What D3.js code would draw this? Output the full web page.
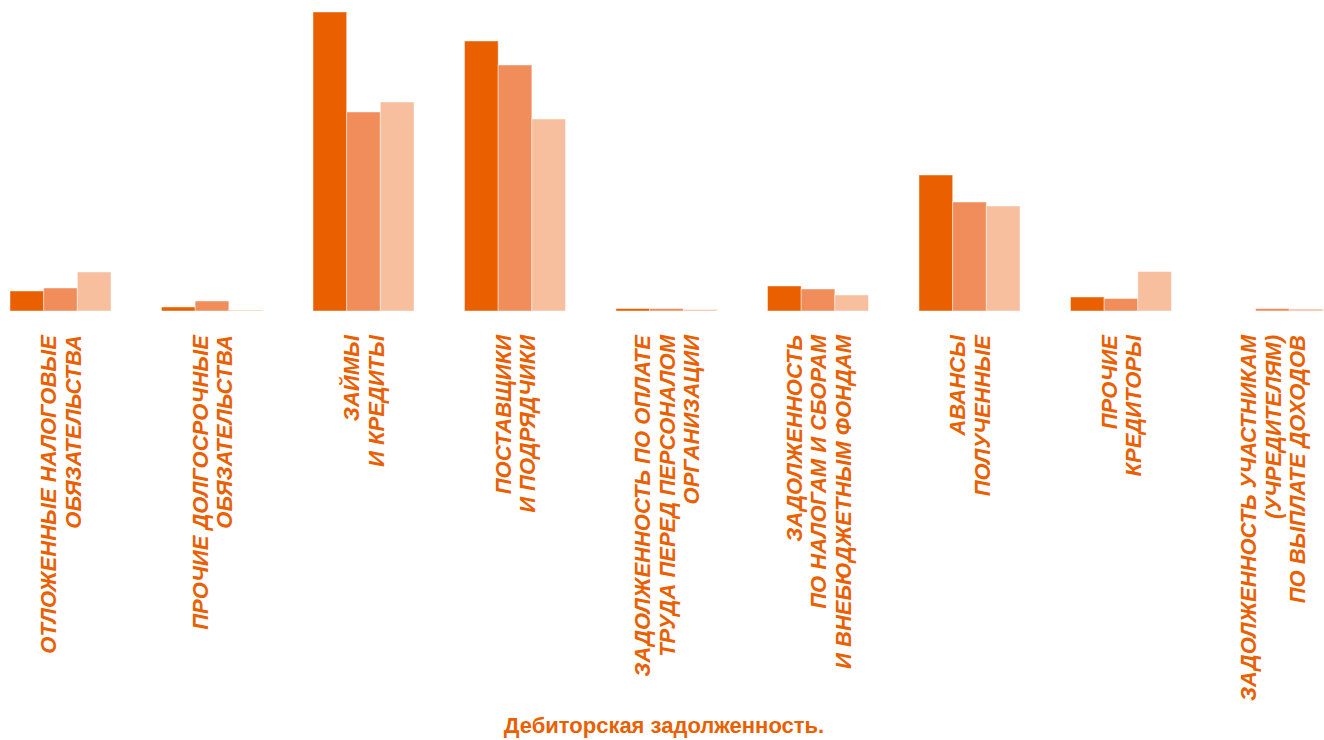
<!DOCTYPE html>
<html>
<head>
<meta charset="utf-8">
<script src="https://cdn.jsdelivr.net/npm/d3@7"></script>
<style>
  html, body { margin: 0; padding: 0; background: #fff; }
  svg { display: block; font-family: "Liberation Sans", Arial, sans-serif; }
</style>
</head>
<body>
<svg id="chart" width="1324" height="740"></svg>
<script>
// Categories (label lines)
const categories = [
  ["ОТЛОЖЕННЫЕ НАЛОГОВЫЕ", "ОБЯЗАТЕЛЬСТВА"],
  ["ПРОЧИЕ ДОЛГОСРОЧНЫЕ", "ОБЯЗАТЕЛЬСТВА"],
  ["ЗАЙМЫ", "И КРЕДИТЫ"],
  ["ПОСТАВЩИКИ", "И ПОДРЯДЧИКИ"],
  ["ЗАДОЛЖЕННОСТЬ ПО ОПЛАТЕ", "ТРУДА ПЕРЕД ПЕРСОНАЛОМ", "ОРГАНИЗАЦИИ"],
  ["ЗАДОЛЖЕННОСТЬ", "ПО НАЛОГАМ И СБОРАМ", "И ВНЕБЮДЖЕТНЫМ ФОНДАМ"],
  ["АВАНСЫ", "ПОЛУЧЕННЫЕ"],
  ["ПРОЧИЕ", "КРЕДИТОРЫ"],
  ["ЗАДОЛЖЕННОСТЬ УЧАСТНИКАМ", "(УЧРЕДИТЕЛЯМ)", "ПО ВЫПЛАТЕ ДОХОДОВ"]
];

// Three series
const series1 = [20, 4, 299, 270, 2.5, 25, 136, 14, 0];
const series2 = [23, 10, 199, 246, 2.5, 22, 109, 12.5, 2.5];
const series3 = [39, 1, 209, 192, 1.5, 16, 105, 39.5, 2];
const seriesColors = ["#EA5F00", "#F08D5B", "#F7BF9E"];
const title = "Дебиторская задолженность.";

const svg = d3.select("#chart");
const orange = "#EA5F00";

const baseY = 311;
const x = d3.scaleBand()
  .domain(d3.range(categories.length))
  .range([10, 1323])
  .paddingInner(1 / 3)
  .paddingOuter(0);

const xSub = d3.scaleBand()
  .domain([0, 1, 2])
  .range([0, x.bandwidth()]);

const allValues = [series1, series2, series3];
const y = d3.scaleLinear()
  .domain([0, d3.max(allValues.flat())])
  .range([baseY, 12]);

// bars
allValues.forEach((vals, s) => {
  svg.append("g")
    .selectAll("rect")
    .data(vals)
    .enter()
    .append("rect")
    .attr("x", (d, i) => x(i) + xSub(s))
    .attr("y", d => y(d))
    .attr("width", xSub.bandwidth())
    .attr("height", d => baseY - y(d))
    .attr("fill", seriesColors[s])
    .attr("stroke", "#fff")
    .attr("stroke-opacity", 0.45)
    .attr("stroke-width", 1);
});

// rotated category labels
const lineGap = 24.5;
const labels = svg.append("g")
  .attr("fill", orange)
  .style("font-size", "22px")
  .style("font-weight", "bold")
  .style("font-style", "italic");

categories.forEach((lines, i) => {
  const cx = x(i) + x.bandwidth() / 2;
  const n = lines.length;
  lines.forEach((line, j) => {
    const lx = cx + (j - (n - 1) / 2) * lineGap + 8;
    labels.append("text")
      .attr("transform", `translate(${lx},335) rotate(-90)`)
      .attr("text-anchor", "end")
      .text(line);
  });
});

// title
svg.append("text")
  .attr("x", 664)
  .attr("y", 733)
  .attr("text-anchor", "middle")
  .attr("fill", orange)
  .style("font-size", "22px")
  .style("font-weight", "bold")
  .text(title);
</script>
</body>
</html>
